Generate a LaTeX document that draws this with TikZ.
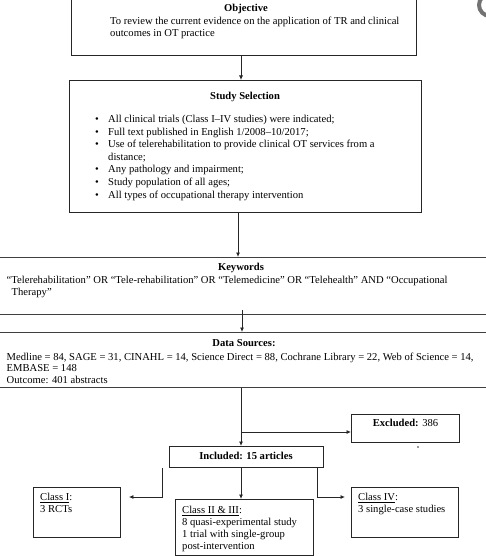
\documentclass[tikz,border=0pt]{standalone}
\usepackage{fontspec}
\setmainfont{Liberation Serif}
\usetikzlibrary{arrows.meta,calc}
\begin{document}
\begin{tikzpicture}[x=1pt,y=-1pt,
  box/.style={draw=black!85, line width=0.9pt, inner sep=0pt, anchor=north west},
  band/.style={draw=black!75, line width=1.1pt},
  txt/.style={font=\fontsize{10.6}{12.4}\selectfont, inner sep=0pt, anchor=base west},
  ttl/.style={font=\fontsize{10.6}{12.4}\selectfont\bfseries, inner sep=0pt, anchor=base},
  arr/.style={draw=black!85, line width=0.8pt, -{Latex[length=4.5pt,width=4pt]}},
  ln/.style={draw=black!85, line width=0.8pt}]
\useasboundingbox (0,0) rectangle (486,556);
% artifact at top right
\draw[line width=4pt, black!55] (490,5) circle (11);
% boxes
\node[box, minimum width=345pt, minimum height=57pt] (obj) at (71,-2) {};
\node[box, minimum width=352pt, minimum height=132pt] (ss) at (69,80) {};
\node[box, band, minimum width=492pt, minimum height=57pt] (kw) at (-3,257) {};
\node[box, band, minimum width=492pt, minimum height=55pt] (ds) at (-3,332) {};
\node[box, minimum width=108pt, minimum height=28pt] (exc) at (351,414) {};
\node[box, minimum width=154pt, minimum height=21pt] (inc) at (169,446) {};
\node[box, minimum width=87pt, minimum height=50pt] (c1) at (33,487) {};
\node[box, minimum width=138pt, minimum height=56pt] (c23) at (175,499) {};
\node[box, minimum width=107pt, minimum height=50pt] (c4) at (351,487) {};
% objective
\node[ttl] (objt) at (246,12) {Objective};
\node[txt] (obj1) at (110,24.5) {To review the current evidence on the application of TR and clinical};
\node[txt] (obj2) at (110,36.5) {outcomes in OT practice};
% study selection
\node[ttl] (sst) at (245,100) {Study Selection};
\foreach \i/\t in {0/{All clinical trials (Class I–IV studies) were indicated;},
                   1/{Full text published in English 1/2008–10/2017;},
                   2/{Use of telerehabilitation to provide clinical OT services from a},
                   4/{Any pathology and impairment;},
                   5/{Study population of all ages;},
                   6/{All types of occupational therapy intervention}}{
  \node[txt] (b\i) at (95,122.5+12.6*\i) {\textbullet};
  \node[txt] (s\i) at (108,122.5+12.6*\i) {\t};
}
\node[txt] (s3) at (108,122.5+12.6*3) {distance;};
% keywords
\node[ttl] (kwt) at (241,270) {Keywords};
\node[txt] (kw1) at (6.5,283.5) {“Telerehabilitation” OR “Tele-rehabilitation” OR “Telemedicine” OR “Telehealth” AND “Occupational};
\node[txt] (kw2) at (11.5,295.7) {Therapy”};
% data sources
\node[ttl] (dst) at (244,346.5) {Data Sources:};
\node[txt] (ds1) at (6.5,360) {Medline = 84, SAGE = 31, CINAHL = 14, Science Direct = 88, Cochrane Library = 22, Web of Science = 14,};
\node[txt] (ds2) at (6.5,371.5) {EMBASE = 148};
\node[txt] (ds3) at (6.5,383) {Outcome: 401 abstracts};
% excluded / included
\node[ttl, font=\fontsize{10.6}{12.4}\selectfont] (exct) at (405.5,426.5) {\textbf{Excluded:} 386};
\node[circle, fill=black!80, inner sep=0pt, minimum size=1.6pt] (dot) at (418,447) {};
\node[ttl] (inct) at (246,459.5) {Included: 15 articles};
% classes
\node[txt] (c1a) at (40,500.7) {\underline{Class I}:};
\node[txt] (c1b) at (40,512.2) {3 RCTs};
\node[txt] (c4a) at (358,500.7) {\underline{Class IV}:};
\node[txt] (c4b) at (358,512.2) {3 single-case studies};
\node[txt] (c2a) at (182,513.3) {\underline{Class II \& III}:};
\node[txt] (c2b) at (182,525.5) {8 quasi-experimental study};
\node[txt] (c2c) at (182,537.4) {1 trial with single-group};
\node[txt] (c2d) at (182,549.2) {post-intervention};
% connectors
\coordinate (x1) at (241,0);
\coordinate (x2) at (238,0);
\coordinate (x3) at (242,0);
\coordinate (xl) at (162,0);
\coordinate (xr) at (317,0);
\coordinate (yr) at (0,497);
\coordinate (br) at (241,432);
\draw[arr] (obj.south -| x1) -- (ss.north -| x1);
\draw[arr] (ss.south -| x2) -- (kw.north -| x2);
\draw[arr] ($(kw.south -| x3)+(0,-5)$) -- (ds.north -| x3);
\draw[arr] (ds.south -| x1) -- (inc.north -| x1);
\draw[arr] (br) -- (exc.west |- br);
\draw[arr] (inc.south -| xl) |- ($(c1.east |- yr)+(8,0)$);
\draw[arr] (inc.south -| x1) -- (c23.north -| x1);
\draw[arr] (inc.south -| xr) |- ($(c4.west |- yr)+(-6,0)$);
\end{tikzpicture}
\end{document}
